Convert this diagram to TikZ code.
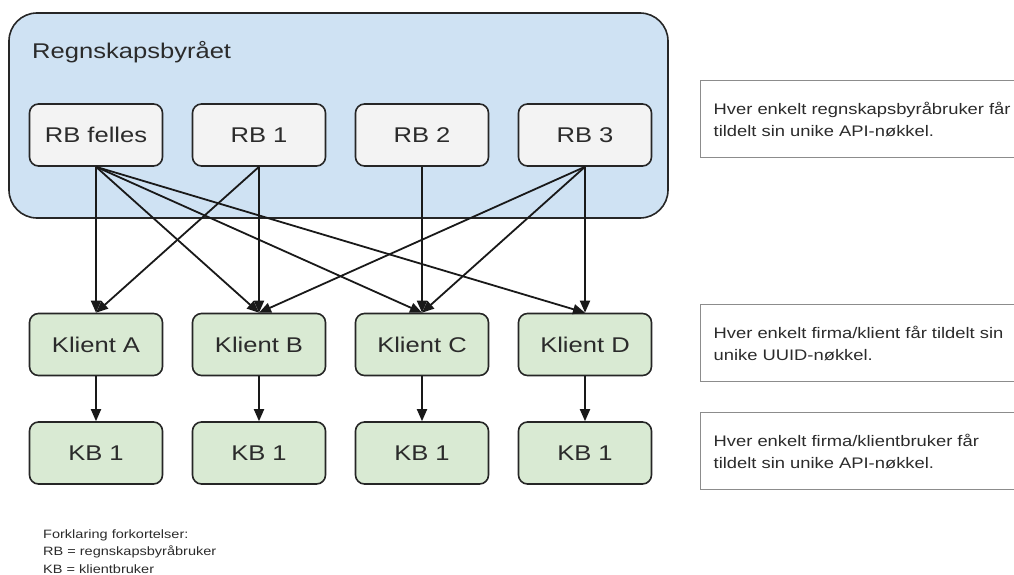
\documentclass[tikz,border=0pt]{standalone}
\usepackage{fontspec}
\newfontfamily\diagfont{Liberation Sans}[FakeStretch=1.2]
\usetikzlibrary{arrows.meta}
\definecolor{orgblue}{HTML}{CFE2F3}
\definecolor{rbgray}{HTML}{F3F3F3}
\definecolor{kgreen}{HTML}{D9EAD3}
\definecolor{txt}{HTML}{2B2B2B}
\definecolor{notegray}{HTML}{8C8C8C}
\tikzset{
  container/.style={draw=black!85, line width=1.6pt, fill=orgblue, rounded corners=28pt,
    minimum width=659pt, minimum height=205pt, inner sep=0pt},
  basebox/.style={draw=black!85, line width=1.6pt, rounded corners=9pt,
    minimum width=133pt, minimum height=62pt, inner sep=0pt, text=txt,
    font=\diagfont\fontsize{21.3}{25}\selectfont},
  rbbox/.style={basebox, fill=rbgray},
  klbox/.style={basebox, fill=kgreen},
  notebox/.style={draw=notegray, line width=1.3pt, fill=white, minimum height=77pt,
    text width=300pt, inner xsep=13pt, inner ysep=0pt, align=left, anchor=west, text=txt,
    font=\diagfont\fontsize{15.3}{22}\selectfont},
  arr/.style={draw=black!90, line width=1.8pt, -{Triangle[length=12pt,width=10pt]}},
}
\begin{document}
\begin{tikzpicture}[x=1pt,y=-1pt]
\useasboundingbox (0,0) rectangle (1014,575);
\clip (0,0) rectangle (1014,575);

\node[container] (byraa) at (338.5,115.5) {};
\node[anchor=west, inner sep=0pt, text=txt, font=\diagfont\fontsize{21.3}{25}\selectfont] (title) at (32,52) {Regnskapsbyrået};

\node[rbbox] (rbf) at (96,135) {RB felles};
\node[rbbox] (rb1) at (259,135) {RB 1};
\node[rbbox] (rb2) at (422,135) {RB 2};
\node[rbbox] (rb3) at (585,135) {RB 3};

\node[klbox] (ka) at (96,344.5) {Klient A};
\node[klbox] (kb) at (259,344.5) {Klient B};
\node[klbox] (kc) at (422,344.5) {Klient C};
\node[klbox] (kd) at (585,344.5) {Klient D};

\node[klbox] (kba) at (96,453) {KB 1};
\node[klbox] (kbb) at (259,453) {KB 1};
\node[klbox] (kbc) at (422,453) {KB 1};
\node[klbox] (kbd) at (585,453) {KB 1};

\draw[arr] (rbf.south) -- (ka.north);
\draw[arr] (rbf.south) -- (kb.north);
\draw[arr] (rbf.south) -- (kc.north);
\draw[arr] (rbf.south) -- (kd.north);
\draw[arr] (rb1.south) -- (ka.north);
\draw[arr] (rb1.south) -- (kb.north);
\draw[arr] (rb2.south) -- (kc.north);
\draw[arr] (rb3.south) -- (kb.north);
\draw[arr] (rb3.south) -- (kc.north);
\draw[arr] (rb3.south) -- (kd.north);

\draw[arr] (ka.south) -- (kba.north);
\draw[arr] (kb.south) -- (kbb.north);
\draw[arr] (kc.south) -- (kbc.north);
\draw[arr] (kd.south) -- (kbd.north);

\node[notebox] (note1) at (700,119) {Hver enkelt regnskapsbyråbruker får\\tildelt sin unike API-nøkkel.};
\node[notebox] (note2) at (700,343) {Hver enkelt firma/klient får tildelt sin\\unike UUID-nøkkel.};
\node[notebox] (note3) at (700,451) {Hver enkelt firma/klientbruker får\\tildelt sin unike API-nøkkel.};

\node[anchor=west, align=left, inner sep=0pt, text=txt, font=\diagfont\fontsize{12.1}{17.5}\selectfont] (legend) at (43,551.5)
  {Forklaring forkortelser:\\RB = regnskapsbyråbruker\\KB = klientbruker};
\end{tikzpicture}
\end{document}
